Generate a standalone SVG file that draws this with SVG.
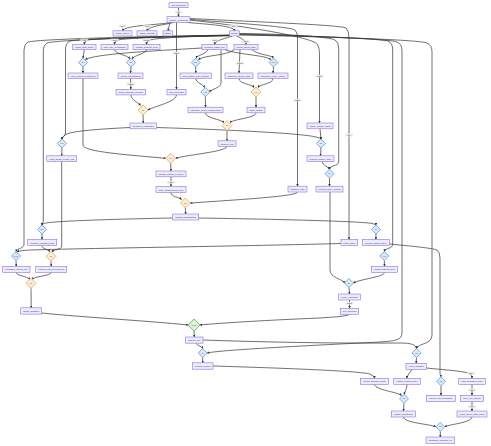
<svg xmlns="http://www.w3.org/2000/svg" width="491" height="446" viewBox="0 0 491 446">
<style>
.n rect{fill:#ECECFF;stroke:#9370DB;stroke-width:0.6}
.n text{font-family:"Liberation Sans",Arial,sans-serif;font-size:2px;fill:#333;text-anchor:middle;dominant-baseline:central}
.db polygon{fill:#dcebfa;stroke:#4a8fd8;stroke-width:0.7}
.do polygon{fill:#fdecd6;stroke:#e0a050;stroke-width:0.7}
.dg polygon{fill:#dff3dc;stroke:#5ab05a;stroke-width:0.8}
.db text,.do text,.dg text{font-family:"Liberation Sans",Arial,sans-serif;font-size:1.5px;fill:#333;text-anchor:middle;dominant-baseline:central}
.e path{fill:none;stroke:#333;stroke-width:0.7;marker-end:url(#ar)}
.lb rect{fill:#e8e8e8;opacity:0.85}
.lb text{font-family:"Liberation Sans",Arial,sans-serif;font-size:1.5px;fill:#333;text-anchor:middle;dominant-baseline:central}
</style>
<defs>
<marker id="ar" viewBox="0 0 10 10" refX="9" refY="5" markerWidth="3.5" markerHeight="3.5" orient="auto"><path d="M0,0L10,5L0,10z" fill="#333"/></marker>
</defs>
<rect width="491" height="446" fill="#ffffff"/>
<g id="connectors" class="e">
<path d="M178.5,7.7L178.5,16.7"/>
<path d="M172,22.3C160,25 125,25 122.5,30.8"/>
<path d="M174,22.3C165,25 148,26 147,30.8"/>
<path d="M170,22.3L168,30.8"/>
<path d="M186,22.3C200,24 234,25 234.5,30.8"/>
<path d="M176.5,22.3L176.5,89.3"/>
<path d="M190,19.5C250,24 290,27 295,30Q297.5,32 297.5,38L297.5,186.2"/>
<path d="M190,20C260,28 312,38 317,44Q319.5,47 319.5,55L319.5,123"/>
<path d="M190,18.5C260,22 340,25 346,28Q349,31 349,38L349,239.5"/>
<path d="M232,36C228,38 215,40 214.5,44.5"/>
<path d="M237,36C240,38 246,40 246,44.5"/>
<path d="M229.7,35C180,36 100,38 88,40Q84.3,41 84.3,44.5"/>
<path d="M229.7,35.2C180,36.5 125,38 118,40Q114.5,41 114.5,44.5"/>
<path d="M229.7,35.4C190,36.5 155,38 150,40Q146.5,41 146.5,44.5"/>
<path d="M229.7,35.5C150,36 40,39 28,42Q24,44 24,50L24,244C24,249 17,248 16,251.5"/>
<path d="M229.7,35.6C150,36.5 55,40 47,43Q43.3,45 43.3,52L43.3,220C43.3,223 42,224 42,225"/>
<path d="M229.7,35.7C160,37 80,39 70,41Q65.5,43 65.5,50L65.5,133C65.5,136 62,137 62,139"/>
<path d="M239.2,33.5C290,34 330,37 335,40Q338.7,42 338.7,48L338.7,162C338.7,166 330,165 329.5,169.2"/>
<path d="M239.2,34C320,36 380,39 388,41Q392.7,43 392.7,50L392.7,244C392.7,249 385,248 384.3,251.5"/>
<path d="M239.2,34.5C330,36.5 390,39 397,42Q402,44 402,51L402,333C402,340 395,341 380,342C300,346 220,350 207.2,353"/>
<path d="M239.2,35C340,37 420,40 427,43Q432,45 432,52L432,335C432,345 418,343 416.5,348.5"/>
<path d="M203,340C260,342 330,343.5 400,343C412,343 416,345 416.5,348.5"/>
<path d="M196,343.2C197,346 202,346 202.7,348.5"/>
<path d="M202.7,357.5L202.7,362.8"/>
<path d="M213,366C280,368 360,371 370,374Q374.5,376 374.5,378.3"/>
<path d="M412,369.3C410,373 407,375 407,378.3"/>
<path d="M426.3,368C445,370 466,371 470,374Q472,375.5 472,378.3"/>
<path d="M416.5,357.5L416.2,363.3"/>
<path d="M374.5,384.3C375,390 398,392 401.5,395.5"/>
<path d="M407,384.3C407,388 405,392 404,394.3"/>
<path d="M441,385.8L441,395.3"/>
<path d="M472,384.3L472,395.3"/>
<path d="M472,401.6L472,411"/>
<path d="M404,403.3L403.5,411"/>
<path d="M403.3,417C404,423 430,424 435.8,426.8"/>
<path d="M472,417C471,423 450,424 444.8,426.8"/>
<path d="M440.3,431.3L440.3,437"/>
<path d="M389.3,244C410,246 432,248 437,250Q440,252 440,258L440,373C440,375 441,376 441,376.8"/>
<path d="M341,243.5C250,246 100,248 30,250Q20,250.5 17,251.8"/>
<path d="M172.7,218C120,219 50,221 44,223.5Q42,224.5 42,225"/>
<path d="M198.7,218C260,219 360,221 372,223.5Q376,224.5 376,225"/>
<path d="M42,234L42,239.5"/>
<path d="M42,245.5C42,249 48,249 49.8,251.8"/>
<path d="M61.7,161.6L61.7,246C61.7,250 53,249 52.5,252.2"/>
<path d="M16,260.5L16.3,266.3"/>
<path d="M51,261.3L51.2,266.3"/>
<path d="M16.3,272.5C16.3,276 28,276 29.5,279.5"/>
<path d="M51.2,272.5C51.2,276 34,276 32.5,279.5"/>
<path d="M31,288.3L31.2,307.8"/>
<path d="M41.7,313C80,317 150,321 188,325"/>
<path d="M349.5,314.3C345,317 330,317 320,318C270,320 220,323 200,325"/>
<path d="M194,331L194.3,337"/>
<path d="M376,234L375.8,239.5"/>
<path d="M384.3,260.5L384.5,266.3"/>
<path d="M384.5,272.5C384.5,277 360,279 353.5,283"/>
<path d="M330,192L330,270C330,278 343,279 344.5,283"/>
<path d="M349,287.5L349.5,294"/>
<path d="M349.5,300L349.5,308.3"/>
<path d="M322,161.6C323,166 328,166 329.5,169.2"/>
<path d="M329.5,178.2L329.5,186.2"/>
<path d="M320,128.8L321,139"/>
<path d="M156.6,127.5C220,129.5 300,133 316,137Q321,138 321,139"/>
<path d="M130,127.5C100,129 70,131 65,135Q62,137 62,139"/>
<path d="M321,148L320.5,155.8"/>
<path d="M62,148L61.7,155.8"/>
<path d="M143,115L143.3,123"/>
<path d="M131,94.9C131,100 138,102 140.5,105.5"/>
<path d="M176.5,94.9C176,102 155,106 148,110"/>
<path d="M130.5,78.5L130.8,89.3"/>
<path d="M131,67L130.5,73"/>
<path d="M83,67L83,73"/>
<path d="M84.3,49.7L83,58"/>
<path d="M114.5,49.7C115,54 128,55 129.5,58.8"/>
<path d="M146.5,49.7C146,54 134,55 132.5,58.8"/>
<path d="M202,48C150,51 95,54 85.5,59.5"/>
<path d="M208,49.7C205,55 197,55 196.2,58"/>
<path d="M234,50C225,56 205,55 198.5,59.5"/>
<path d="M225,49.7C240,55 265,55 270.8,59.5"/>
<path d="M252,49.7C258,55 272,55 273.3,58"/>
<path d="M240,49.7L239,73"/>
<path d="M221,49.7L221,83C221,88 211,89 209.8,92"/>
<path d="M195.7,67L195.8,73"/>
<path d="M273.5,67L273,73"/>
<path d="M195.8,78.5C196,83 203,84 204.5,87.5"/>
<path d="M239,78.5C239,84 252,84 254,87.5"/>
<path d="M273,78.5C273,84 260,84 258,87.5"/>
<path d="M205.3,96.5L205.5,107.2"/>
<path d="M256,97L256,107.2"/>
<path d="M205.5,112.8C205.5,118 220,119 224,122.5"/>
<path d="M256,112.8C256,118 234,119 230,122.5"/>
<path d="M227,130.7L227,140.8"/>
<path d="M227,146.6C225,152 185,155 175.7,158.3"/>
<path d="M83,78.5L83,145C83,152 130,155 165.7,158.3"/>
<path d="M170.7,163.3L171,171"/>
<path d="M171,176.8L171,186.6"/>
<path d="M171,192.4C171,197 179,197 181.5,199.5"/>
<path d="M297.5,192C297,196 250,199 190.3,203"/>
<path d="M185.3,208L185.7,214"/>
</g>
<g id="edge-labels" class="lb">
<g><rect x="175" y="10.6" width="7" height="2.8"/><text x="178.5" y="12">start</text></g>
<g><rect x="118.5" y="24.6" width="8" height="2.8"/><text x="122.5" y="26">query</text></g>
<g><rect x="143" y="24.6" width="8" height="2.8"/><text x="147" y="26">config</text></g>
<g><rect x="229.5" y="24.6" width="8" height="2.8"/><text x="233.5" y="26">other</text></g>
<g><rect x="172.5" y="51.6" width="8" height="2.8"/><text x="176.5" y="53">always</text></g>
<g><rect x="80.3" y="38.6" width="8" height="2.8"/><text x="84.3" y="40">auth</text></g>
<g><rect x="110.5" y="38.6" width="8" height="2.8"/><text x="114.5" y="40">perms</text></g>
<g><rect x="142.5" y="38.6" width="8" height="2.8"/><text x="146.5" y="40">schema</text></g>
<g><rect x="210.7" y="38.6" width="8" height="2.8"/><text x="214.7" y="40">batch</text></g>
<g><rect x="241.7" y="40.3" width="8" height="2.8"/><text x="245.7" y="41.7">async</text></g>
<g><rect x="236" y="61.6" width="8" height="2.8"/><text x="240" y="63">enqueue</text></g>
<g><rect x="126.7" y="82.6" width="8" height="2.8"/><text x="130.7" y="84">merged</text></g>
<g><rect x="315.5" y="74.6" width="8" height="2.8"/><text x="319.5" y="76">cached</text></g>
<g><rect x="293.5" y="98.6" width="8" height="2.8"/><text x="297.5" y="100">fallback</text></g>
<g><rect x="345" y="133.6" width="8" height="2.8"/><text x="349" y="135">stale</text></g>
<g><rect x="167" y="180.9" width="8" height="2.8"/><text x="171" y="182.3">notify</text></g>
<g><rect x="345.5" y="301.9" width="8" height="2.8"/><text x="349.5" y="303.3">verified</text></g>
<g><rect x="467" y="371.9" width="8" height="2.8"/><text x="471" y="373.3">notify</text></g>
<g><rect x="468" y="388.6" width="8" height="2.8"/><text x="472" y="390">failed</text></g>
<g><rect x="468" y="405.3" width="8" height="2.8"/><text x="472" y="406.7">done</text></g>
</g>
<g id="n_A" class="n"><rect x="169" y="2.7" width="19" height="5"/><text x="178.5" y="5.2" textLength="14" lengthAdjust="spacingAndGlyphs">On request</text></g>
<g id="n_B" class="n"><rect x="167" y="16.7" width="23" height="5.6"/><text x="178.5" y="19.5" textLength="18" lengthAdjust="spacingAndGlyphs">route_request</text></g>
<g id="n_C1" class="n"><rect x="113" y="30.8" width="19" height="5.2"/><text x="122.5" y="33.4" textLength="14" lengthAdjust="spacingAndGlyphs">parse_query</text></g>
<g id="n_C2" class="n"><rect x="137" y="30.8" width="20" height="5.2"/><text x="147" y="33.4" textLength="15" lengthAdjust="spacingAndGlyphs">load_config</text></g>
<g id="n_C3" class="n"><rect x="163" y="30.8" width="9.5" height="5.2"/><text x="167.75" y="33.4" textLength="6" lengthAdjust="spacingAndGlyphs">skip</text></g>
<g id="n_H" class="n"><rect x="229.7" y="30.8" width="9.6" height="5.2"/><text x="234.5" y="33.4" textLength="7" lengthAdjust="spacingAndGlyphs">dispatch</text></g>
<g id="n_D1" class="n"><rect x="72.7" y="44.5" width="23.3" height="5.2"/><text x="84.35" y="47.1" textLength="18" lengthAdjust="spacingAndGlyphs">check_auth_token</text></g>
<g id="n_D2" class="n"><rect x="101" y="44.5" width="27" height="5.2"/><text x="114.5" y="47.1" textLength="22" lengthAdjust="spacingAndGlyphs">fetch_user_permissions</text></g>
<g id="n_D3" class="n"><rect x="133" y="44.5" width="27" height="5.2"/><text x="146.5" y="47.1" textLength="22" lengthAdjust="spacingAndGlyphs">validate_schema_rules</text></g>
<g id="n_E1" class="n"><rect x="202" y="44.5" width="25" height="5.2"/><text x="214.5" y="47.1" textLength="20" lengthAdjust="spacingAndGlyphs">prepare_batch_job</text></g>
<g id="n_E2" class="n"><rect x="234" y="44.5" width="24" height="5.2"/><text x="246" y="47.1" textLength="19" lengthAdjust="spacingAndGlyphs">queue_async_task</text></g>
<g id="n_F1" class="n"><rect x="68" y="73" width="30" height="5.5"/><text x="83" y="75.75" textLength="25" lengthAdjust="spacingAndGlyphs">reject_request_unauthorized</text></g>
<g id="n_F2" class="n"><rect x="118" y="73" width="25" height="5.5"/><text x="130.5" y="75.75" textLength="20" lengthAdjust="spacingAndGlyphs">merge_permissions</text></g>
<g id="n_G1" class="n"><rect x="180" y="73" width="31.6" height="5.5"/><text x="195.8" y="75.75" textLength="26" lengthAdjust="spacingAndGlyphs">split_batch_into_chunks</text></g>
<g id="n_G2" class="n"><rect x="225" y="73" width="28" height="5.5"/><text x="239" y="75.75" textLength="23" lengthAdjust="spacingAndGlyphs">enqueue_worker_task</text></g>
<g id="n_G3" class="n"><rect x="258" y="73" width="30" height="5.5"/><text x="273" y="75.75" textLength="25" lengthAdjust="spacingAndGlyphs">schedule_retry_policy</text></g>
<g id="n_F3" class="n"><rect x="116" y="89.3" width="29.6" height="5.6"/><text x="130.8" y="92.1" textLength="24" lengthAdjust="spacingAndGlyphs">build_response_payload</text></g>
<g id="n_K" class="n"><rect x="167" y="89.3" width="19" height="5.6"/><text x="176.5" y="92.1" textLength="14" lengthAdjust="spacingAndGlyphs">log_access</text></g>
<g id="n_H1" class="n"><rect x="188" y="107.2" width="35" height="5.6"/><text x="205.5" y="110" textLength="30" lengthAdjust="spacingAndGlyphs">aggregate_chunk_results_partial</text></g>
<g id="n_H2" class="n"><rect x="247" y="107.2" width="18" height="5.6"/><text x="256" y="110" textLength="13" lengthAdjust="spacingAndGlyphs">track_status</text></g>
<g id="n_I" class="n"><rect x="130" y="123" width="26.6" height="5.8"/><text x="143.3" y="125.9" textLength="21" lengthAdjust="spacingAndGlyphs">serialize_response</text></g>
<g id="n_R1" class="n"><rect x="307" y="123" width="26" height="5.8"/><text x="320" y="125.9" textLength="21" lengthAdjust="spacingAndGlyphs">cache_lookup_result</text></g>
<g id="n_J" class="n"><rect x="218" y="140.8" width="18" height="5.8"/><text x="227" y="143.7" textLength="13" lengthAdjust="spacingAndGlyphs">finalize_job</text></g>
<g id="n_L1" class="n"><rect x="46.7" y="155.8" width="30" height="5.8"/><text x="61.7" y="158.7" textLength="25" lengthAdjust="spacingAndGlyphs">emit_audit_event_log</text></g>
<g id="n_R2" class="n"><rect x="307" y="155.8" width="27" height="5.8"/><text x="320.5" y="158.7" textLength="22" lengthAdjust="spacingAndGlyphs">refresh_cache_entry</text></g>
<g id="n_M" class="n"><rect x="156" y="171" width="30" height="5.8"/><text x="171" y="173.9" textLength="25" lengthAdjust="spacingAndGlyphs">persist_results_to_store</text></g>
<g id="n_N" class="n"><rect x="156" y="186.6" width="30" height="5.8"/><text x="171" y="189.5" textLength="25" lengthAdjust="spacingAndGlyphs">notify_subscribers_done</text></g>
<g id="n_P" class="n"><rect x="288" y="186.2" width="19" height="5.8"/><text x="297.5" y="189.1" textLength="14" lengthAdjust="spacingAndGlyphs">fallback_path</text></g>
<g id="n_Q" class="n"><rect x="316" y="186.2" width="27" height="5.8"/><text x="329.5" y="189.1" textLength="22" lengthAdjust="spacingAndGlyphs">rebuild_index_partial</text></g>
<g id="n_S" class="n"><rect x="172.7" y="214" width="26" height="6"/><text x="185.7" y="217" textLength="21" lengthAdjust="spacingAndGlyphs">commit_transaction</text></g>
<g id="n_T" class="n"><rect x="27.7" y="239.5" width="29" height="6"/><text x="42.2" y="242.5" textLength="24" lengthAdjust="spacingAndGlyphs">rollback_changes_tmp</text></g>
<g id="n_U" class="n"><rect x="341" y="239.5" width="16.7" height="6"/><text x="349.35" y="242.5" textLength="12" lengthAdjust="spacingAndGlyphs">mark_stale</text></g>
<g id="n_V" class="n"><rect x="362.3" y="239.5" width="27" height="6"/><text x="375.8" y="242.5" textLength="22" lengthAdjust="spacingAndGlyphs">reconcile_shards_async</text></g>
<g id="n_W1" class="n"><rect x="2.7" y="266.3" width="27.3" height="6.2"/><text x="16.35" y="269.4" textLength="22" lengthAdjust="spacingAndGlyphs">release_locks_all</text></g>
<g id="n_W2" class="n"><rect x="35.7" y="266.3" width="31" height="6.2"/><text x="51.2" y="269.4" textLength="26" lengthAdjust="spacingAndGlyphs">cleanup_temp_files_and_dirs</text></g>
<g id="n_X" class="n"><rect x="371.3" y="266.3" width="26.4" height="6.2"/><text x="384.5" y="269.4" textLength="21" lengthAdjust="spacingAndGlyphs">compact_segments_merge</text></g>
<g id="n_Y" class="n"><rect x="338.7" y="294" width="21.6" height="6"/><text x="349.5" y="297" textLength="17" lengthAdjust="spacingAndGlyphs">verify_integrity</text></g>
<g id="n_O1" class="n"><rect x="20.7" y="307.8" width="21" height="6.3"/><text x="31.2" y="310.95" textLength="16" lengthAdjust="spacingAndGlyphs">close_session</text></g>
<g id="n_Z" class="n"><rect x="340.3" y="308.3" width="18.4" height="6"/><text x="349.5" y="311.3" textLength="14" lengthAdjust="spacingAndGlyphs">write_checkpoint</text></g>
<g id="n_AA" class="n"><rect x="185.7" y="337" width="17.3" height="6.2"/><text x="194.35" y="340.1" textLength="12" lengthAdjust="spacingAndGlyphs">finalize_run</text></g>
<g id="n_BB" class="n"><rect x="192.3" y="362.8" width="20.7" height="6.4"/><text x="202.65" y="366" textLength="16" lengthAdjust="spacingAndGlyphs">publish_metrics</text></g>
<g id="n_CC" class="n"><rect x="406" y="363.3" width="20.3" height="6"/><text x="416.15" y="366.3" textLength="15" lengthAdjust="spacingAndGlyphs">export_snapshot</text></g>
<g id="n_DD1" class="n"><rect x="360.3" y="378.3" width="28.4" height="6"/><text x="374.5" y="381.3" textLength="23" lengthAdjust="spacingAndGlyphs">upload_artifacts_remote</text></g>
<g id="n_DD2" class="n"><rect x="393.7" y="378.3" width="26.6" height="6"/><text x="407" y="381.3" textLength="21" lengthAdjust="spacingAndGlyphs">update_manifest_index</text></g>
<g id="n_DD3" class="n"><rect x="458.7" y="378.3" width="26.6" height="6"/><text x="472" y="381.3" textLength="21" lengthAdjust="spacingAndGlyphs">send_notification_email</text></g>
<g id="n_EE1" class="n"><rect x="426.3" y="395.3" width="29" height="6.3"/><text x="440.8" y="398.45" textLength="23" lengthAdjust="spacingAndGlyphs">archive_old_snapshots</text></g>
<g id="n_EE2" class="n"><rect x="460.3" y="395.3" width="23.4" height="6.3"/><text x="472" y="398.45" textLength="18" lengthAdjust="spacingAndGlyphs">retry_on_failure</text></g>
<g id="n_FF1" class="n"><rect x="391.3" y="411" width="24" height="6"/><text x="403.3" y="414" textLength="19" lengthAdjust="spacingAndGlyphs">update_dashboard</text></g>
<g id="n_FF2" class="n"><rect x="457" y="411" width="30" height="6"/><text x="472" y="414" textLength="25" lengthAdjust="spacingAndGlyphs">record_delivery_status_report</text></g>
<g id="n_GG" class="n"><rect x="426" y="437" width="28.7" height="6.3"/><text x="440.35" y="440.15" textLength="23" lengthAdjust="spacingAndGlyphs">shutdown_complete_ok</text></g>
<g id="d_D1" class="db"><polygon points="83,58 87.5,62.5 83,67 78.5,62.5"/><text x="83" y="62.5">ok?</text></g>
<g id="d_D23" class="db"><polygon points="131,58 135.5,62.5 131,67 126.5,62.5"/><text x="131" y="62.5">ok?</text></g>
<g id="d_E1" class="db"><polygon points="195.7,58 200.2,62.5 195.7,67 191.2,62.5"/><text x="195.7" y="62.5">size?</text></g>
<g id="d_E2" class="db"><polygon points="273.5,58 278,62.5 273.5,67 269,62.5"/><text x="273.5" y="62.5">retry?</text></g>
<g id="d_G" class="db"><polygon points="205.3,87.5 209.8,92 205.3,96.5 200.8,92"/><text x="205.3" y="92">all?</text></g>
<g id="o_G" class="do"><polygon points="256,87 261,92 256,97 251,92"/><text x="256" y="92">join</text></g>
<g id="o_F" class="do"><polygon points="143,105 148,110 143,115 138,110"/><text x="143" y="110">join</text></g>
<g id="o_H" class="do"><polygon points="227,120.7 232,125.7 227,130.7 222,125.7"/><text x="227" y="125.7">join</text></g>
<g id="d_I" class="db"><polygon points="62,139 66.5,143.5 62,148 57.5,143.5"/><text x="62" y="143.5">log?</text></g>
<g id="d_R" class="db"><polygon points="321,139 325.5,143.5 321,148 316.5,143.5"/><text x="321" y="143.5">hit?</text></g>
<g id="o_J" class="do"><polygon points="170.7,153.3 175.7,158.3 170.7,163.3 165.7,158.3"/><text x="170.7" y="158.3">join</text></g>
<g id="d_R2" class="db"><polygon points="329.5,169.2 334,173.7 329.5,178.2 325,173.7"/><text x="329.5" y="173.7">ok?</text></g>
<g id="o_N" class="do"><polygon points="185.3,198 190.3,203 185.3,208 180.3,203"/><text x="185.3" y="203">join</text></g>
<g id="d_L" class="db"><polygon points="42,225 46.5,229.5 42,234 37.5,229.5"/><text x="42" y="229.5">fail?</text></g>
<g id="d_X" class="db"><polygon points="376,225 380.5,229.5 376,234 371.5,229.5"/><text x="376" y="229.5">ok?</text></g>
<g id="d_16" class="db"><polygon points="16,251.5 20.5,256 16,260.5 11.5,256"/><text x="16" y="256">lock?</text></g>
<g id="o_51" class="do"><polygon points="51,251.3 56,256.3 51,261.3 46,256.3"/><text x="51" y="256.3">join</text></g>
<g id="d_V" class="db"><polygon points="384.3,251.5 388.8,256 384.3,260.5 379.8,256"/><text x="384.3" y="256">ok?</text></g>
<g id="o_W" class="do"><polygon points="31,278.3 36,283.3 31,288.3 26,283.3"/><text x="31" y="283.3">join</text></g>
<g id="d_Y" class="db"><polygon points="349,278.5 353.5,283 349,287.5 344.5,283"/><text x="349" y="283">ok?</text></g>
<g id="g_merge" class="dg"><polygon points="194,319 200,325 194,331 188,325"/><text x="194" y="325">merge</text></g>
<g id="d_AA" class="db"><polygon points="202.7,348.5 207.2,353 202.7,357.5 198.2,353"/><text x="202.7" y="353">ok?</text></g>
<g id="d_BB" class="db"><polygon points="416.5,348.5 421,353 416.5,357.5 412,353"/><text x="416.5" y="353">ok?</text></g>
<g id="d_DD" class="db"><polygon points="441,376.8 445.5,381.3 441,385.8 436.5,381.3"/><text x="441" y="381.3">old?</text></g>
<g id="d_E" class="db"><polygon points="404,394.3 408.5,398.8 404,403.3 399.5,398.8"/><text x="404" y="398.8">ok?</text></g>
<g id="d_FF" class="db"><polygon points="440.3,422.3 444.8,426.8 440.3,431.3 435.8,426.8"/><text x="440.3" y="426.8">end?</text></g>
</svg>
